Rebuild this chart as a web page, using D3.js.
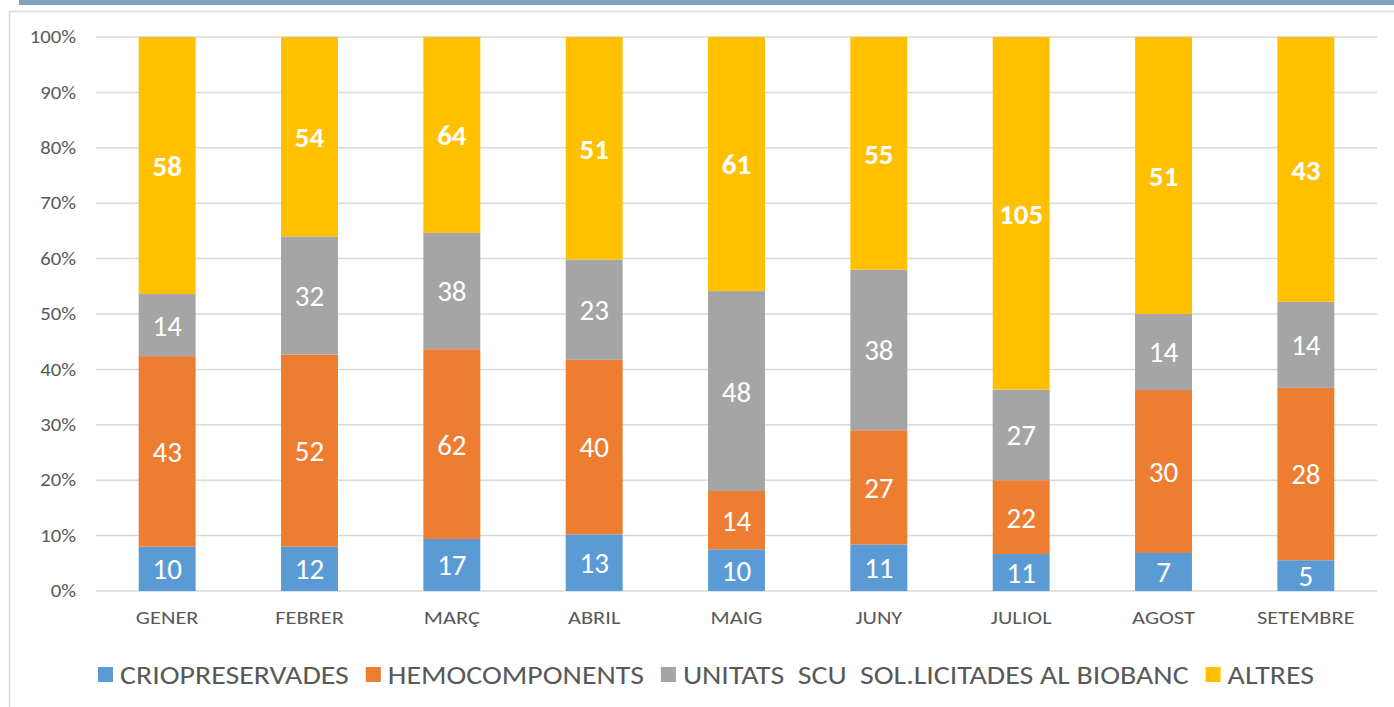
<!DOCTYPE html>
<html>
<head>
<meta charset="utf-8">
<script src="https://cdn.jsdelivr.net/npm/d3@7"></script>
<style>
  html, body { margin: 0; padding: 0; background: #fff; }
  svg { display: block; font-family: Carlito, 'Liberation Sans Narrow', 'Liberation Sans', sans-serif; }
</style>
</head>
<body>
<div id="chart"></div>
<script>
const months = ['GENER', 'FEBRER', 'MARÇ', 'ABRIL', 'MAIG', 'JUNY', 'JULIOL', 'AGOST', 'SETEMBRE'];
const crio = [10, 12, 17, 13, 10, 11, 11, 7, 5];
const hemo = [43, 52, 62, 40, 14, 27, 22, 30, 28];
const unitats = [14, 32, 38, 23, 48, 38, 27, 14, 14];
const altres = [58, 54, 64, 51, 61, 55, 105, 51, 43];
const seriesLabels = ['CRIOPRESERVADES', 'HEMOCOMPONENTS', 'UNITATS  SCU  SOL.LICITADES AL BIOBANC', 'ALTRES'];
const colors = ['#5b9bd5', '#ed7d31', '#a5a5a5', '#ffc000'];
const yTicks = [0, 0.1, 0.2, 0.3, 0.4, 0.5, 0.6, 0.7, 0.8, 0.9, 1];

const W = 1394, H = 707;
const margin = {top: 37, right: 17, bottom: 116, left: 96};
const keys = ['crio', 'hemo', 'unitats', 'altres'];
const FONT = "Carlito, 'Liberation Sans Narrow', 'Liberation Sans', sans-serif";

// build rows for d3.stack
const data = months.map((m, i) => ({
  month: m, crio: crio[i], hemo: hemo[i], unitats: unitats[i], altres: altres[i]
}));

const svg = d3.select('#chart').append('svg')
    .attr('width', W)
    .attr('height', H);

// top band and chart frame
svg.append('rect').attr('x', 19).attr('y', 0).attr('width', W - 19).attr('height', 5)
    .attr('fill', '#7fa2bf');
svg.append('rect').attr('x', 9.5).attr('y', 11.5).attr('width', W).attr('height', H)
    .attr('fill', 'none').attr('stroke', '#d9d9d9').attr('stroke-width', 1.5);

const x = d3.scaleBand().domain(months)
    .range([margin.left, W - margin.right])
    .paddingInner(0.6).paddingOuter(0.3);
const y = d3.scaleLinear().domain([0, 1]).range([H - margin.bottom, margin.top]);

// gridlines
svg.append('g').selectAll('line').data(yTicks).join('line')
    .attr('x1', margin.left).attr('x2', W - margin.right)
    .attr('y1', d => y(d)).attr('y2', d => y(d))
    .attr('stroke', '#d9d9d9').attr('stroke-width', 1.5);

// y axis labels (stretched a bit, like the original screenshot)
const yAxis = svg.append('g')
    .attr('transform', `translate(${margin.left},0)`)
    .call(d3.axisLeft(y).tickValues(yTicks).tickFormat(d3.format('.0%')).tickSize(0).tickPadding(20));
yAxis.select('.domain').remove();
yAxis.selectAll('.tick text')
    .attr('fill', '#595959').style('font-size', '18px').style('font-family', FONT)
    .attr('transform', function() {
      const tx = +d3.select(this).attr('x');
      return `translate(${tx},0) scale(1.15,1)`;
    })
    .attr('x', 0);

const xAxis = svg.append('g')
    .attr('transform', `translate(0,${H - margin.bottom})`)
    .call(d3.axisBottom(x).tickSize(0).tickPadding(20));
xAxis.select('.domain').remove();
xAxis.selectAll('.tick text')
    .attr('fill', '#595959').style('font-size', '19px').style('font-family', FONT)
    .attr('transform', 'scale(1.18,1)');

const layers = d3.stack().keys(keys).offset(d3.stackOffsetExpand)(data);

const layer = svg.append('g').selectAll('g').data(layers).join('g')
    .attr('fill', (d, i) => colors[i]);
layer.selectAll('rect').data(d => d).join('rect')
    .attr('x', d => x(d.data.month))
    .attr('width', x.bandwidth())
    .attr('y', d => y(d[1]))
    .attr('height', d => y(d[0]) - y(d[1]));

// value labels
layers.forEach((l, li) => {
  svg.append('g').selectAll('text').data(l).join('text')
      .attr('x', d => x(d.data.month) + x.bandwidth() / 2)
      .attr('y', d => (y(d[0]) + y(d[1])) / 2)
      .attr('dy', '0.36em')
      .attr('text-anchor', 'middle')
      .attr('fill', '#fff')
      .style('font-size', '29px')
      .style('font-weight', li === 3 ? 'bold' : 'normal')
      .text(d => d.data[l.key]);
});

// legend
const legend = svg.append('g').attr('transform', `translate(0,675)`);
let lx = 98;
const sx = 1.15;
seriesLabels.forEach((lab, i) => {
  legend.append('rect').attr('x', lx).attr('y', -8).attr('width', 15).attr('height', 15)
      .attr('fill', colors[i]);
  const t = legend.append('text')
      .attr('transform', `translate(${lx + 22},0) scale(${sx},1)`)
      .attr('dy', '0.36em')
      .attr('fill', '#595959').style('font-size', '26px').style('white-space', 'pre')
      .attr('xml:space', 'preserve')
      .text(lab);
  lx += 22 + t.node().getComputedTextLength() * sx + 17;
});
</script>
</body>
</html>
